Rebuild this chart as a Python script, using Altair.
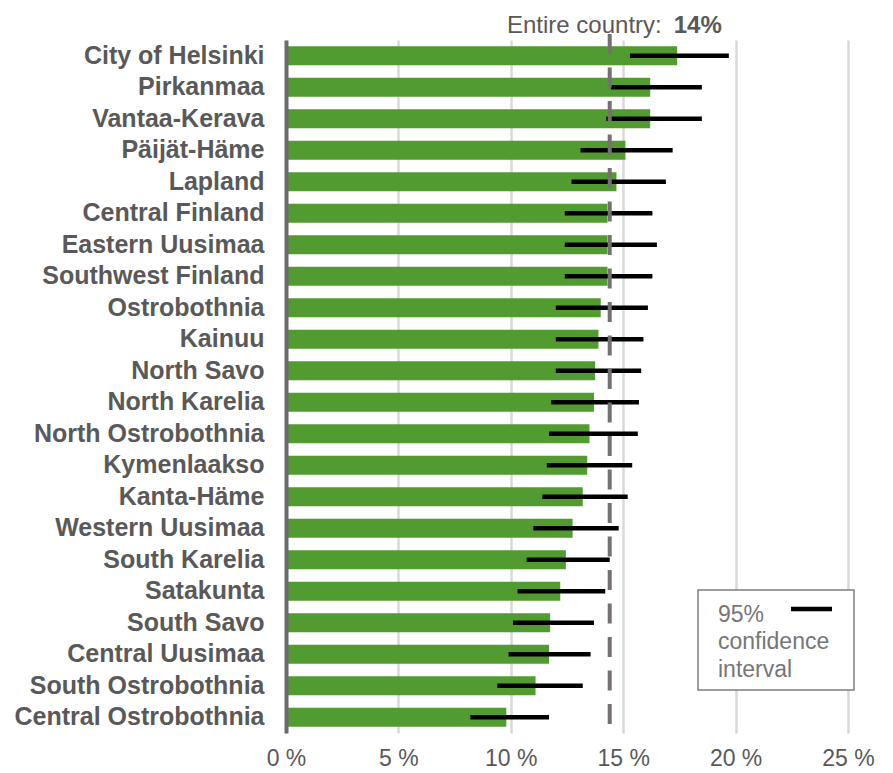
import altair as alt
import pandas as pd

regions = [
    "City of Helsinki", "Pirkanmaa", "Vantaa-Kerava", "Päijät-Häme", "Lapland",
    "Central Finland", "Eastern Uusimaa", "Southwest Finland", "Ostrobothnia",
    "Kainuu", "North Savo", "North Karelia", "North Ostrobothnia", "Kymenlaakso",
    "Kanta-Häme", "Western Uusimaa", "South Karelia", "Satakunta", "South Savo",
    "Central Uusimaa", "South Ostrobothnia", "Central Ostrobothnia",
]
share = [17.4, 16.2, 16.2, 15.1, 14.7, 14.3, 14.3, 14.3, 14.0, 13.9, 13.75,
         13.7, 13.5, 13.4, 13.2, 12.75, 12.45, 12.2, 11.75, 11.7, 11.1, 9.8]
ci_low = [15.3, 14.45, 14.25, 13.1, 12.7, 12.4, 12.4, 12.4, 12.0, 12.0, 12.0,
          11.8, 11.7, 11.6, 11.4, 11.0, 10.7, 10.3, 10.1, 9.9, 9.4, 8.2]
ci_high = [19.7, 18.5, 18.5, 17.2, 16.9, 16.3, 16.5, 16.3, 16.1, 15.9, 15.8,
           15.7, 15.65, 15.4, 15.2, 14.8, 14.4, 14.2, 13.7, 13.55, 13.2, 11.7]
national = [14.4]
national_text = "Entire country:"
national_value = "14%"
x_ticks = [0, 5, 10, 15, 20, 25]
legend_lines = ["95%", "confidence", "interval"]

df = pd.DataFrame({"region": regions, "share": share, "lo": ci_low, "hi": ci_high})
nat = pd.DataFrame({"v": national})
one = pd.DataFrame({"a": [0]})

W, H = 562, 693
FONT = "Liberation Sans"
TXT = "#595959"

x_scale = alt.Scale(domain=[0, 25], nice=False, zero=True)
x_axis = alt.Axis(
    title=None, values=x_ticks, labelExpr="datum.value + ' %'", grid=True,
    gridColor="#d9d9d9", gridWidth=2.5, domain=False, ticks=False,
    labelFontSize=23, labelColor=TXT, labelPadding=14, labelFont=FONT,
    labelFlush=False, labelOverlap=False,
)
y_enc = alt.Y(
    "region:N", sort=regions, title=None,
    scale=alt.Scale(paddingInner=0.4, paddingOuter=0.2),
    axis=alt.Axis(
        title=None, labelFont=FONT, labelFontWeight="bold", labelFontSize=25,
        labelColor=TXT, labelPadding=22, ticks=False, domainColor="#6b6b6b",
        domainWidth=4, grid=False, zindex=1, labelLimit=400,
    ),
)

bars = alt.Chart(df).mark_bar(color="#529B30").encode(
    x=alt.X("share:Q", scale=x_scale, axis=x_axis, title=None),
    y=y_enc,
)
ci = alt.Chart(df).mark_rule(color="black", strokeWidth=4.5).encode(
    x=alt.X("lo:Q", title=None), x2="hi:Q", y=alt.Y("region:N", sort=regions, title=None)
)
nat_rule = alt.Chart(nat).mark_rule(
    color="#767171", strokeWidth=4, strokeDash=[20, 13.5]
).encode(x=alt.X("v:Q", title=None), y=alt.value(-6), y2=alt.value(H))
nat_t1 = alt.Chart(nat).mark_text(
    align="right", baseline="alphabetic", dx=52, fontSize=24, color=TXT, font=FONT
).encode(x=alt.X("v:Q", title=None), y=alt.value(-7), text=alt.value(national_text))
nat_t2 = alt.Chart(nat).mark_text(
    align="left", baseline="alphabetic", dx=64, fontSize=24, fontWeight="bold",
    color=TXT, font=FONT
).encode(x=alt.X("v:Q", title=None), y=alt.value(-7), text=alt.value(national_value))

leg_box = alt.Chart(one).mark_rect(fill="white", stroke="#7f7f7f", strokeWidth=1.5).encode(
    x=alt.value(412), x2=alt.value(568), y=alt.value(550), y2=alt.value(650)
)
leg_text = alt.Chart(one).mark_text(
    align="left", baseline="alphabetic", fontSize=23, lineHeight=27.5,
    color="#767676", font=FONT
).encode(x=alt.value(432), y=alt.value(581.5), text=alt.value(legend_lines))
leg_line = alt.Chart(one).mark_rule(color="black", strokeWidth=4.5).encode(
    x=alt.value(505), x2=alt.value(546), y=alt.value(569)
)

chart = alt.layer(
    bars, ci, nat_rule, nat_t1, nat_t2, leg_box, leg_text, leg_line
).properties(
    width=W, height=H,
    padding={"left": 278, "top": 32, "right": 30, "bottom": 40},
    autosize=alt.AutoSizeParams(type="none"),
).configure_view(stroke=None)

chart.save("out.html", embed_options={"renderer": "svg", "actions": False})
